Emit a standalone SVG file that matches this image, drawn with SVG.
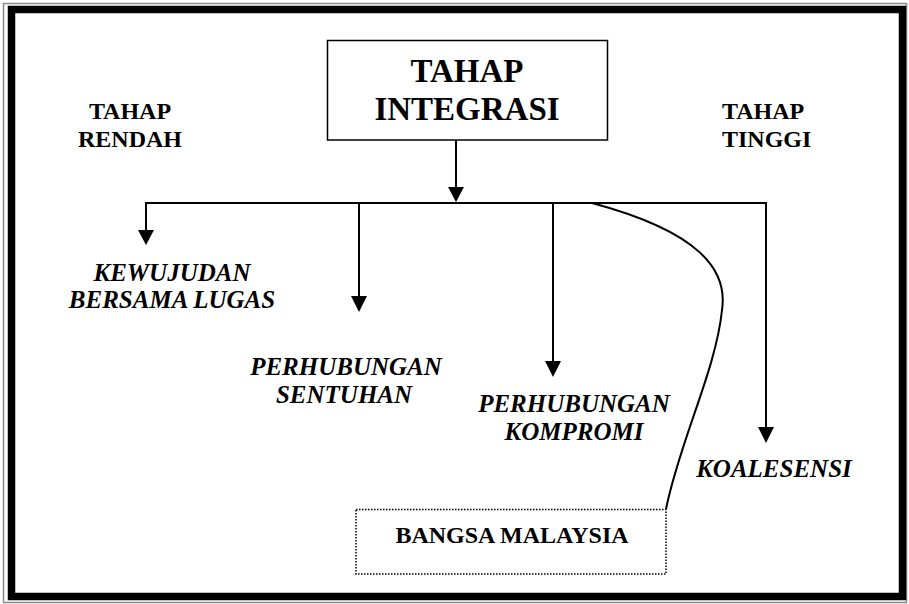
<svg xmlns="http://www.w3.org/2000/svg" width="909" height="604" viewBox="0 0 909 604">
<style>
.t{font-family:"Liberation Serif","Times New Roman",serif;font-weight:bold;fill:#000}
.i{font-style:italic;font-size:25px;text-anchor:middle}
.ln{stroke:#000;stroke-width:2;fill:none}
</style>
<defs>
<marker id="ah" viewBox="0 0 16 15" refX="8" refY="15" markerWidth="16" markerHeight="15" markerUnits="userSpaceOnUse" orient="auto-start-reverse">
<path d="M0,0 L16,0 L8,15 Z" fill="#000"/>
</marker>
</defs>
<rect x="0" y="0" width="909" height="604" fill="#fff"/>
<rect x="3.5" y="3.5" width="903" height="599" fill="none" stroke="#888" stroke-width="1.5"/>
<rect x="11.5" y="9.5" width="891" height="587" fill="none" stroke="#000" stroke-width="7.5"/>

<g id="connectors">
<line class="ln" x1="456" y1="140" x2="456" y2="187"/>
<path d="M448,187 L464,187 L456,202 Z"/>
<line class="ln" x1="146" y1="203" x2="766" y2="203"/>
<line class="ln" x1="146" y1="202" x2="146" y2="231"/>
<path d="M138,230 L154,230 L146,245 Z"/>
<line class="ln" x1="359" y1="202" x2="359" y2="297"/>
<path d="M351,296 L367,296 L359,312 Z"/>
<line class="ln" x1="553" y1="202" x2="553" y2="362"/>
<path d="M545,361 L561,361 L553,377 Z"/>
<line class="ln" x1="766" y1="202" x2="766" y2="428"/>
<path d="M758,427 L774,427 L766,443 Z"/>
<path class="ln" d="M592,203 C700,232 728,270 722,310 C716,370 680,440 666,509"/>
</g>

<g id="node-integrasi">
<rect x="327.5" y="40.5" width="280" height="99.5" fill="#fff" stroke="#000" stroke-width="1.5"/>
<text class="t" x="467" y="82" font-size="33" text-anchor="middle">TAHAP</text>
<text class="t" x="467" y="120" font-size="33" text-anchor="middle">INTEGRASI</text>
</g>

<g id="label-rendah">
<text class="t" x="130" y="119" font-size="24" text-anchor="middle">TAHAP</text>
<text class="t" x="130" y="147" font-size="24" text-anchor="middle">RENDAH</text>
</g>

<g id="label-tinggi">
<text class="t" x="722" y="119" font-size="24">TAHAP</text>
<text class="t" x="722" y="147" font-size="24">TINGGI</text>
</g>

<g id="node-kewujudan">
<text class="t i" x="172" y="281">KEWUJUDAN</text>
<text class="t i" x="172" y="308">BERSAMA LUGAS</text>
</g>

<g id="node-sentuhan">
<text class="t i" x="346" y="375">PERHUBUNGAN</text>
<text class="t i" x="344" y="403">SENTUHAN</text>
</g>

<g id="node-kompromi">
<text class="t i" x="574" y="412">PERHUBUNGAN</text>
<text class="t i" x="574" y="440">KOMPROMI</text>
</g>

<g id="node-koalesensi">
<text class="t i" x="774" y="477">KOALESENSI</text>
</g>

<g id="node-bangsa">
<rect x="356" y="509.5" width="310" height="64.5" fill="#fff" stroke="#000" stroke-width="1.5" stroke-dasharray="1.5 1.5"/>
<text class="t" x="512" y="543" font-size="24" text-anchor="middle">BANGSA MALAYSIA</text>
</g>
</svg>
